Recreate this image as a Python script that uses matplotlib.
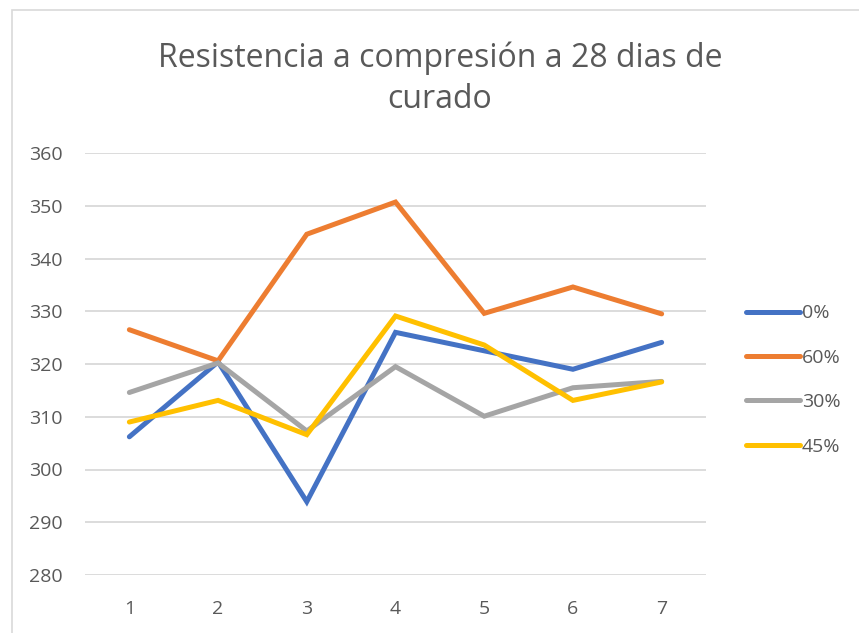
import matplotlib
matplotlib.use("Agg")
import matplotlib.pyplot as plt
from matplotlib.patches import Rectangle

categories = [1, 2, 3, 4, 5, 6, 7]
series_names = ["0%", "60%", "30%", "45%"]
s0 = [306.2, 320.4, 293.9, 326.0, 322.5, 319.0, 324.1]
s60 = [326.5, 320.6, 344.6, 350.7, 329.6, 334.6, 329.5]
s30 = [314.6, 320.2, 307.3, 319.5, 310.1, 315.5, 316.7]
s45 = [309.0, 313.1, 306.6, 329.1, 323.6, 313.1, 316.6]
colors = ["#4472C4", "#ED7D31", "#A5A5A5", "#FFC000"]
yticks = [280, 290, 300, 310, 320, 330, 340, 350, 360]

plt.rcParams['font.family'] = ['Open Sans', 'DejaVu Sans']

W, H = 859, 633
fig = plt.figure(figsize=(W / 100, H / 100), dpi=100)
fig.patches.append(Rectangle((12 / W, -0.01), 1.0, 1 - 10 / H + 0.01, transform=fig.transFigure,
                             fill=False, edgecolor="#d9d9d9", linewidth=1.2))

ax = fig.add_axes([85 / W, (H - 575) / H, (706 - 85) / W, (575 - 153) / H])
x = list(range(len(categories)))
for data, name, c in zip([s0, s60, s30, s45], series_names, colors):
    ax.plot(x, data, color=c, linewidth=3.6, label=name, solid_capstyle='round', solid_joinstyle='miter')

ax.set_xlim(-0.5, len(categories) - 0.5)
ax.set_ylim(280, 360)
ax.set_yticks(yticks)
ax.set_xticks(x)
ax.set_xticklabels([str(c) for c in categories])
ax.grid(axis='y', color="#d9d9d9", linewidth=1.3)
ax.set_axisbelow(True)
for s in ax.spines.values():
    s.set_visible(False)
ax.tick_params(length=0, labelsize=14, colors="#595959")
ax.tick_params(axis='y', pad=16)
ax.tick_params(axis='x', pad=18)

fig.text(440 / W, 1 - 79 / H, "Resistencia a compresión a 28 dias de\ncurado", ha='center', va='center',
         fontsize=23, color="#595959", linespacing=1.32)

leg = ax.legend(loc='center left', bbox_to_anchor=(728 / W, 1 - 380 / H), bbox_transform=fig.transFigure,
                frameon=False, fontsize=14, labelcolor="#595959", handlelength=2.8, handletextpad=0.1,
                labelspacing=1.36)

fig.savefig("out.png", dpi=100)
